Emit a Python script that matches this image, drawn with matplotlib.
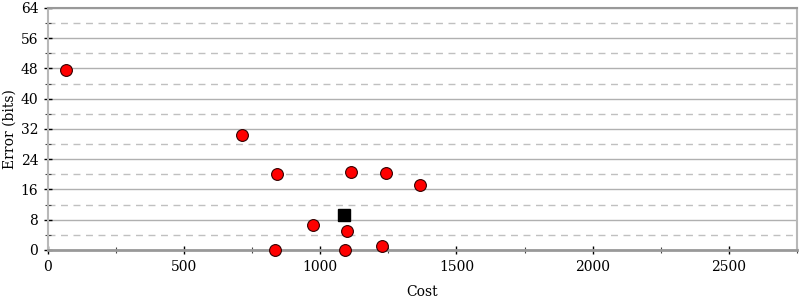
import matplotlib
matplotlib.use("Agg")
import matplotlib.pyplot as plt
from matplotlib.ticker import MultipleLocator

cost = [66, 712, 840, 1111, 1240, 1368, 972, 1097, 833, 1089, 1225]
error = [47.6, 30.4, 20.1, 20.6, 20.4, 17.2, 6.6, 5.0, 0.0, 0.0, 1.0]
best_cost = [1086]
best_error = [9.3]

plt.rcParams['font.family'] = ['DejaVu Serif']
fig = plt.figure(figsize=(8, 3), dpi=100)
ax = fig.add_axes([0.06, 0.1667, 0.936, 0.8067])
ax.set_xlim(0, 2750)
ax.set_ylim(0, 64)
ax.xaxis.set_major_locator(MultipleLocator(500))
ax.xaxis.set_minor_locator(MultipleLocator(250))
ax.yaxis.set_major_locator(MultipleLocator(8))
ax.yaxis.set_minor_locator(MultipleLocator(4))

ax.grid(True, which='major', axis='y', color='#b0b0b0', lw=1.0, ls='-')
ax.grid(True, which='minor', axis='y', color='#c0c0c0', lw=1.0, ls=(0, (5, 4)))
ax.set_axisbelow(True)

for s in ['left', 'right']:
    ax.spines[s].set_color('#b8b8b8')
    ax.spines[s].set_linewidth(1.5)
ax.spines['top'].set_color('#999999')
ax.spines['bottom'].set_color('#999999')
ax.spines['top'].set_linewidth(1.5)
ax.spines['bottom'].set_linewidth(2)

ax.tick_params(which='major', length=6, width=1, color='black', labelsize=10, direction='inout', pad=4)
ax.tick_params(which='minor', length=4, width=0.8, color='#444444', direction='inout')
ax.tick_params(axis='y', which='both', right=False)

ax.plot(cost, error, 'o', color='red', mec='#330000', mew=0.8, ms=8.5, clip_on=False, zorder=3)
ax.plot(best_cost, best_error, 's', color='black', ms=8, clip_on=False, zorder=3)

ax.set_xlabel('Cost', fontsize=10, labelpad=8)
ax.set_ylabel('Error (bits)', fontsize=10, labelpad=3)

fig.savefig('out.png', dpi=100)
